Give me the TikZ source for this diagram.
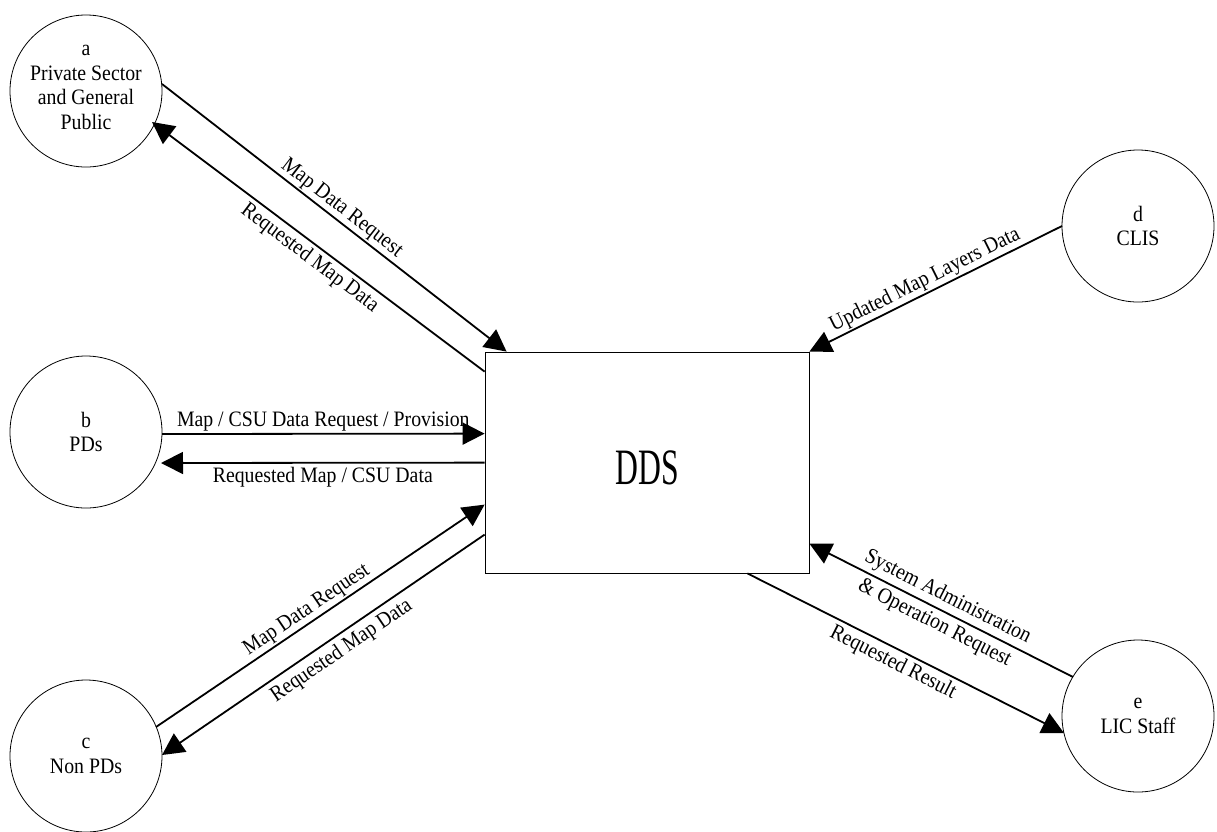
\documentclass[tikz,border=0pt]{standalone}
\usepackage{fontspec}
\usepackage{graphicx}
\setmainfont{Liberation Serif}[FakeStretch=0.9]
\usetikzlibrary{arrows.meta,calc}
\begin{document}
\begin{tikzpicture}[x=1pt,y=-1pt,
  ent/.style={draw, circle, line width=0.8pt, minimum size=152pt, inner sep=0pt,
    align=center, font=\fontsize{22}{24.5}\selectfont},
  flow/.style={line width=1.8pt, -{Triangle[length=22pt,width=22pt]}},
  lbl/.style={font=\fontsize{22}{24}\selectfont, sloped, inner sep=1.5pt},
  lbltwo/.style={font=\fontsize{22}{29}\selectfont, sloped, inner sep=0pt, align=center}]
\useasboundingbox (0,0) rectangle (1217,831);

\node[ent] (a) at (86,91) {a\\Private Sector\\and General\\Public\\[-17.5pt]};
\node[ent] (b) at (86,432) {b\\PDs};
\node[ent] (c) at (86,756) {c\\Non PDs};
\node[ent] (d) at (1138,226) {d\\CLIS};
\node[ent] (e) at (1138,716) {e\\LIC Staff};
\node[draw, line width=0.8pt, minimum width=324pt, minimum height=221pt, inner sep=0pt,
  text height=44pt, text depth=0pt, font=\fontsize{51}{51}\selectfont]
  (dds) at (647,462.5) {\scalebox{0.69}[1]{DDS}};

\draw[flow] ($(a.center)+(76,-7)$) -- ($(dds.north west)+(22,0)$)
  node[lbl,pos=0.5,above=0pt]{Map Data Request};
\draw[flow] ($(dds.north west)+(0,20)$) -- ($(a.center)+(66,31)$)
  node[lbl,pos=0.5,below=2pt]{Requested Map Data};
\draw[flow] ($(b.center)+(76,2)$) -- ($(dds.north west)+(0,82)$)
  node[lbl,pos=0.5,above=0pt]{Map / CSU Data Request / Provision};
\draw[flow] ($(dds.north west)+(0,111)$) -- ($(b.center)+(75,31)$)
  node[lbl,pos=0.5,below=2pt]{Requested Map / CSU Data};
\draw[flow] ($(c.center)+(70,-29)$) -- ($(dds.north west)+(0,153)$)
  node[lbl,pos=0.48,above=0pt]{Map Data Request};
\draw[flow] ($(dds.north west)+(0,183)$) -- ($(c.center)+(76,-1)$)
  node[lbl,pos=0.47,below=3pt]{Requested Map Data};
\draw[flow] ($(d.center)+(-76,0)$) -- (dds.north east)
  node[lbl,pos=0.52,above=0pt]{Updated Map Layers Data};
\draw[flow] ($(e.center)+(-65,-39)$) -- ($(dds.north east)+(0,192)$)
  node[lbltwo,pos=0.5]{System Administration\\\& Operation Request};
\draw[flow] ($(dds.south east)+(-62,0)$) -- ($(e.center)+(-74,17)$)
  node[lbl,pos=0.48,below=2pt]{Requested Result};
\end{tikzpicture}
\end{document}
